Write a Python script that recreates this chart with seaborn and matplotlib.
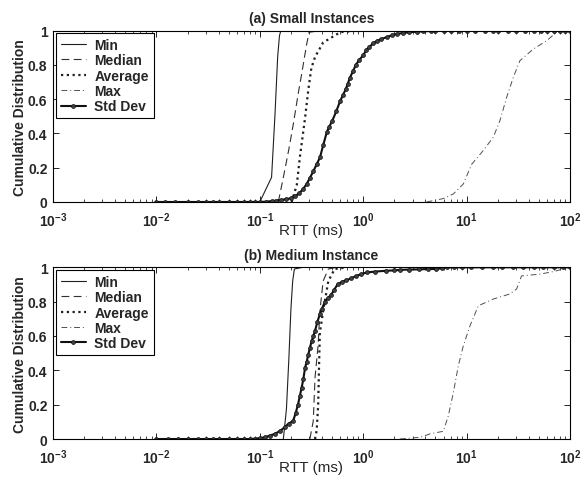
import numpy as np
import pandas as pd
import matplotlib
matplotlib.use("Agg")
import matplotlib.pyplot as plt
import seaborn as sns

# ---------------- data ----------------
titles = ["(a) Small Instances", "(b) Medium Instance"]
series_names = ["Min", "Median", "Average", "Max", "Std Dev"]
xtick_vals = [1e-3, 1e-2, 1e-1, 1e0, 1e1, 1e2]
xtick_labels = [r"$\mathbf{10^{-3}}$", r"$\mathbf{10^{-2}}$", r"$\mathbf{10^{-1}}$",
                r"$\mathbf{10^{0}}$", r"$\mathbf{10^{1}}$", r"$\mathbf{10^{2}}$"]
ytick_vals = [0, 0.2, 0.4, 0.6, 0.8, 1.0]
ytick_labels = ["0", "0.2", "0.4", "0.6", "0.8", "1"]

# (a) Small
small_min_x = [0.100, 0.130, 0.140, 0.149, 0.155, 0.160, 0.30]
small_min_y = [0.0, 0.144, 0.50, 0.85, 0.97, 1.0, 1.0]
small_med_x = [0.151, 0.169, 0.190, 0.211, 0.238, 0.254, 0.284, 0.300, 0.40]
small_med_y = [0.0, 0.144, 0.30, 0.455, 0.65, 0.746, 0.92, 0.99, 1.0]
small_avg_x = [0.203, 0.228, 0.244, 0.274, 0.294, 0.315, 0.342, 0.410, 0.60, 0.90]
small_avg_y = [0.0, 0.10, 0.26, 0.49, 0.65, 0.78, 0.845, 0.93, 0.99, 1.0]
small_max_x = [4.1, 5.96, 7.45, 9.3, 11.2, 14.5, 18.1, 21.0, 24.4, 28.3, 32.8, 44.2, 59.4, 74.0, 85.0, 100.0]
small_max_y = [0.0, 0.02, 0.047, 0.105, 0.22, 0.30, 0.377, 0.474, 0.61, 0.727, 0.824, 0.892, 0.94, 0.99, 1.0, 1.0]
small_std_x = [0.010, 0.012, 0.015, 0.020, 0.025, 0.030, 0.035, 0.040, 0.050, 0.060, 0.070, 0.080, 0.090,
               0.100, 0.115, 0.130, 0.145, 0.160, 0.180, 0.200, 0.220, 0.240, 0.262, 0.284, 0.305, 0.330,
               0.355, 0.382, 0.410, 0.444, 0.470, 0.500, 0.550, 0.600, 0.640, 0.680, 0.710, 0.745, 0.800,
               0.850, 0.920, 1.00, 1.07, 1.15, 1.25, 1.37, 1.50, 1.70, 1.90, 2.10, 2.40, 2.80, 3.30, 3.80,
               4.5, 5.0, 6.0, 7.0, 8.5, 10.0, 12.0, 15.0, 18.0, 20.0, 25.0, 30.0, 37.0, 45.0, 52.0, 60.0,
               70.0, 80.0, 90.0, 100.0]
small_std_y = [0.0, 0.0, 0.0, 0.0, 0.0, 0.0, 0.0, 0.0, 0.0, 0.0, 0.0, 0.0, 0.0,
               0.0, 0.002, 0.005, 0.008, 0.012, 0.016, 0.022, 0.035, 0.05, 0.075, 0.105, 0.14, 0.18,
               0.22, 0.26, 0.33, 0.406, 0.44, 0.47, 0.53, 0.59, 0.625, 0.66, 0.69, 0.725, 0.765,
               0.80, 0.83, 0.855, 0.885, 0.905, 0.925, 0.94, 0.95, 0.962, 0.972, 0.98, 0.985, 0.99, 0.993, 0.995,
               0.997, 0.998, 1.0, 1.0, 1.0, 1.0, 1.0, 1.0, 1.0, 1.0, 1.0, 1.0, 1.0, 1.0, 1.0, 1.0,
               1.0, 1.0, 1.0, 1.0]

# (b) Medium
med_min_x = [0.169, 0.181, 0.191, 0.200, 0.208, 0.216, 0.26]
med_min_y = [0.0, 0.175, 0.466, 0.757, 0.92, 0.99, 1.0]
med_med_x = [0.305, 0.329, 0.342, 0.367, 0.381, 0.410, 0.460, 0.55]
med_med_y = [0.0, 0.105, 0.357, 0.55, 0.745, 0.92, 0.99, 1.0]
med_avg_x = [0.342, 0.355, 0.367, 0.375, 0.381, 0.410, 0.460, 0.530, 0.70]
med_avg_y = [0.0, 0.05, 0.20, 0.45, 0.62, 0.745, 0.92, 0.99, 1.0]
med_max_x = [2.27, 3.55, 4.43, 5.96, 6.66, 7.45, 8.32, 9.3, 10.8, 13.0, 18.1, 26.3, 30.5, 34.0, 51.0, 69.0, 86.0, 100.0]
med_max_y = [0.0, 0.01, 0.03, 0.045, 0.136, 0.27, 0.427, 0.543, 0.66, 0.776, 0.815, 0.845, 0.874, 0.95, 0.96, 0.975, 0.99, 1.0]
med_std_x = [0.010, 0.013, 0.016, 0.020, 0.025, 0.030, 0.035, 0.040, 0.050, 0.060, 0.070, 0.080, 0.090,
             0.100, 0.112, 0.125, 0.140, 0.157, 0.175, 0.190, 0.210, 0.222, 0.234, 0.244, 0.254, 0.264,
             0.274, 0.284, 0.294, 0.305, 0.317, 0.330, 0.342, 0.360, 0.380, 0.400, 0.426, 0.455, 0.490,
             0.525, 0.565, 0.620, 0.686, 0.760, 0.860, 0.960, 1.08, 1.30, 1.68, 2.0, 2.27, 2.8, 3.5, 4.2,
             5.1, 5.8, 6.4, 7.5, 9.0, 11.0, 14.0, 18.0, 22.0, 28.0, 35.0, 45.0, 55.0, 70.0, 85.0, 100.0]
med_std_y = [0.0, 0.0, 0.0, 0.0, 0.0, 0.0, 0.0, 0.0, 0.0, 0.0, 0.0, 0.0, 0.002,
             0.005, 0.01, 0.02, 0.03, 0.047, 0.07, 0.09, 0.105, 0.15, 0.20, 0.25, 0.30, 0.35,
             0.415, 0.45, 0.49, 0.53, 0.57, 0.60, 0.63, 0.68, 0.726, 0.76, 0.80, 0.82, 0.84,
             0.87, 0.90, 0.915, 0.924, 0.935, 0.95, 0.96, 0.97, 0.975, 0.98, 0.982, 0.985, 0.987, 0.988, 0.99,
             0.99, 0.995, 1.0, 1.0, 1.0, 1.0, 1.0, 1.0, 1.0, 1.0, 1.0, 1.0, 1.0, 1.0, 1.0, 1.0]

panels = [
    [(small_min_x, small_min_y), (small_med_x, small_med_y), (small_avg_x, small_avg_y),
     (small_max_x, small_max_y), (small_std_x, small_std_y)],
    [(med_min_x, med_min_y), (med_med_x, med_med_y), (med_avg_x, med_avg_y),
     (med_max_x, med_max_y), (med_std_x, med_std_y)],
]

# ---------------- styling ----------------
sns.set_style("ticks")
plt.rcParams["font.family"] = ["Liberation Sans", "DejaVu Sans"]
plt.rcParams["mathtext.fontset"] = "custom"
plt.rcParams["mathtext.bf"] = "Liberation Sans:bold"
plt.rcParams["mathtext.rm"] = "Liberation Sans"
plt.rcParams["xtick.direction"] = "in"
plt.rcParams["ytick.direction"] = "in"

styles = {
    "Min": dict(color="#202020", linestyle="-", linewidth=0.8),
    "Median": dict(color="#303030", linestyle=(0, (7, 4)), linewidth=0.8),
    "Average": dict(color="#202020", linestyle=(0, (1, 1.6)), linewidth=1.6),
    "Max": dict(color="#505050", linestyle=(0, (6, 3, 1, 3)), linewidth=0.7),
    "Std Dev": dict(color="#101010", linestyle="-", linewidth=1.5, marker="o",
                    markersize=2.8, markerfacecolor="#404040", markeredgecolor="#101010",
                    markeredgewidth=0.5),
}

fig = plt.figure(figsize=(5.87, 4.81), dpi=100)
axes = [fig.add_axes([0.0903, 0.578, 0.8807, 0.3565]),
        fig.add_axes([0.0903, 0.0852, 0.8807, 0.3570])]

for ax, title, data in zip(axes, titles, panels):
    for name, (xs, ys) in zip(series_names, data):
        df = pd.DataFrame({"x": xs, "y": ys})
        sns.lineplot(data=df, x="x", y="y", ax=ax, estimator=None, sort=False,
                     label=name, **styles[name])
    ax.set_xscale("log")
    ax.set_xlim(1e-3, 1e2)
    ax.set_ylim(0, 1)
    ax.set_xticks(xtick_vals)
    ax.set_xticklabels(xtick_labels, fontsize=10)
    ax.set_yticks(ytick_vals)
    ax.set_yticklabels(ytick_labels, fontsize=10, fontweight="bold")
    ax.tick_params(which="both", top=True, right=True, direction="in", color="black")
    ax.tick_params(which="major", length=4, width=0.6)
    ax.tick_params(axis="x", which="major", pad=6)
    ax.tick_params(axis="y", which="major", pad=4)
    ax.tick_params(which="minor", length=2.5, width=0.5)
    for s in ax.spines.values():
        s.set_color("black")
        s.set_linewidth(0.8)
    ax.set_xlabel("RTT (ms)", fontsize=11, labelpad=-4)
    ax.set_ylabel("Cumulative Distribution", fontsize=10, fontweight="bold", labelpad=1)
    ax.set_title(title, fontsize=10, fontweight="bold", pad=6)
    leg = ax.legend(loc="upper left", bbox_to_anchor=(0.006, 0.985), borderaxespad=0,
                    fancybox=False, framealpha=1, edgecolor="black",
                    prop={"weight": "bold", "size": 10}, handlelength=1.8,
                    labelspacing=0.1, borderpad=0.35, handletextpad=0.6)
    leg.get_frame().set_linewidth(0.8)

fig.savefig("out.png", dpi=100)
